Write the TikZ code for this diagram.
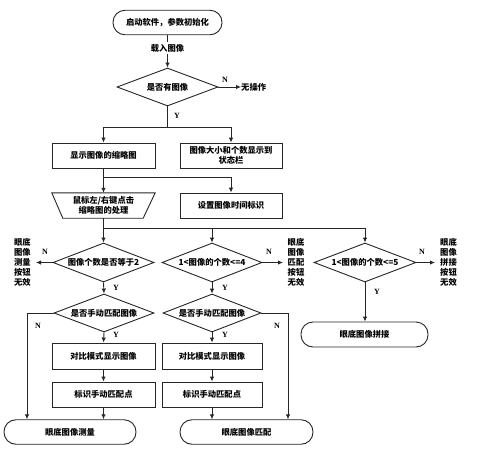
\documentclass[tikz,border=0pt]{standalone}
\usepackage{fontspec}
\setmainfont{Liberation Serif}
\newfontfamily\cjk{Noto Sans CJK SC}
\usetikzlibrary{shapes.geometric,arrows.meta,calc}
\begin{document}
\begin{tikzpicture}[x=1pt,y=-1pt,
  every node/.style={font=\cjk\bfseries\fontsize{8.3}{10}\selectfont, inner sep=0pt},
  line/.style={draw=black!85, line width=0.9pt},
  arr/.style={line, -{Latex[length=5pt,width=4.5pt]}},
  proc/.style={draw=black!85, line width=0.9pt, rectangle, minimum height=25pt, align=center},
  term/.style={draw=black!85, line width=0.9pt, rectangle, rounded corners=12pt, minimum height=24.5pt},
  dec/.style={draw=black!85, line width=0.9pt, diamond, minimum height=39pt, inner sep=0pt},
  side/.style={align=center, font=\cjk\bfseries\fontsize{8.3}{10}\selectfont},
  yn/.style={font=\bfseries\fontsize{8}{9}\selectfont}
]
\useasboundingbox (0,0) rectangle (477,450);

% top part
\node[term, minimum width=109pt] (start) at (167.5,22.5) {启动软件，参数初始化};
\node[dec, minimum width=101pt, minimum height=38pt] (d0) at (167.5,87) {\makebox[0pt]{是否有图像}};
\draw[arr] (start) -- (d0);
\node[fill=white, inner ysep=2pt] (load) at (167.5,48) {载入图像};
\node[anchor=west] (noop) at (241,87) {无操作};
\draw[arr] (d0.east) -- (noop.west);
\node[yn] (n0) at (225,80) {N};

\node[proc, minimum width=103pt] (b1) at (103.5,155.5) {显示图像的缩略图};
\node[proc, minimum width=102pt] (b2) at (231,155.5) {图像大小和个数显示到\\状态栏};
\coordinate (j0) at (167.5,127);
\draw[line] (d0.south) -- (j0);
\node[yn] (y0) at (177,116) {Y};
\draw[arr] (j0) -| (b1.north);
\draw[arr] (j0) -| (b2.north);

% trapezoid and time box
\node[minimum width=103pt, minimum height=25pt, align=center] (tp) at (103.5,205.5) {鼠标左/右键点击\\缩略图的处理};
\draw[line] (tp.north west) -- (tp.north east) -- ([xshift=-12pt]tp.south east) -- ([xshift=11pt]tp.south west) -- cycle;
\node[proc, minimum width=102pt] (b3) at (231,205.5) {设置图像时间标识};
\coordinate (j1) at (103.5,177);
\draw[arr] (b1.south) -- (tp.north);
\draw[arr] (j1) -| (b3.north);

% three decisions
\node[dec, minimum width=101pt] (d1) at (103.5,262.5) {\makebox[0pt]{图像个数是否等于2}};
\node[dec, minimum width=100pt] (d2) at (212,262.5) {\makebox[0pt]{1<图像的个数<=4}};
\node[dec, minimum width=102pt] (d3) at (365,262.5) {\makebox[0pt]{1<图像的个数<=5}};
\coordinate (j2) at (103.5,228);
\draw[arr] (tp.south) -- (d1.north);
\draw[arr] (j2) -| (d2.north);
\draw[arr] (j2) -| (d3.north);

\node[side] (t1) at (22.5,262.5) {眼底\\图像\\测量\\按钮\\无效};
\node[side] (t2) at (296,262.5) {眼底\\图像\\匹配\\按钮\\无效};
\node[side] (t3) at (448.5,262.5) {眼底\\图像\\拼接\\按钮\\无效};
\draw[arr] (d1.west) -- (t1.east -| 36,0);
\draw[arr] (d2.east) -- (t2.west -| 283,0);
\draw[arr] (d3.east) -- (t3.west -| 435,0);
\node[yn] (n1) at (45,252) {N};
\node[yn] (n2) at (269,252) {N};
\node[yn] (n3) at (422,252) {N};

% second-level decisions
\node[dec, minimum width=100pt, minimum height=38pt] (d4) at (104,313) {\makebox[0pt]{是否手动匹配图像}};
\node[dec, minimum width=98pt, minimum height=38pt] (d5) at (212,313) {\makebox[0pt]{是否手动匹配图像}};
\draw[arr] (d1.south) -- (d4.north);
\draw[arr] (d2.south) -- (d5.north);
\node[yn] (y1) at (116,288) {Y};
\node[yn] (y2) at (225,288) {Y};

\node[proc, minimum width=103pt, minimum height=26pt] (b4) at (103.5,356) {对比模式显示图像};
\node[proc, minimum width=103pt] (b5) at (103.5,394.5) {标识手动匹配点};
\node[proc, minimum width=100pt, minimum height=26pt] (b6) at (212,356) {对比模式显示图像};
\node[proc, minimum width=100pt] (b7) at (212,394.5) {标识手动匹配点};
\draw[arr] (d4.south) -- (b4.north);
\draw[arr] (d5.south) -- (b6.north);
\node[yn] (y3) at (116,335) {Y};
\node[yn] (y4) at (225,335) {Y};
\draw[arr] (b4) -- (b5);
\draw[arr] (b6) -- (b7);

\node[term, minimum width=132pt] (e1) at (70,432) {眼底图像测量};
\node[term, minimum width=133pt] (e2) at (246.5,432) {眼底图像匹配};
\node[term, minimum width=127pt, minimum height=25pt] (e3) at (364.5,334.5) {眼底图像拼接};

\draw[arr] (b5.south) -- (b5.south |- e1.north);
\draw[arr] (b7.south) -- (b7.south |- e2.north);
\coordinate (c4) at (27,313);
\coordinate (c5) at (288,313);
\draw[arr] (d4.west) -- (c4) -- (c4 |- e1.north);
\draw[arr] (d5.east) -- (c5) -- (c5 |- e2.north);
\node[yn] (n4) at (38,326) {N};
\node[yn] (n5) at (277,326) {N};

\draw[arr] (d3.south) -- (d3.south |- e3.north);
\node[yn] (y5) at (377,292) {Y};
\end{tikzpicture}
\end{document}
